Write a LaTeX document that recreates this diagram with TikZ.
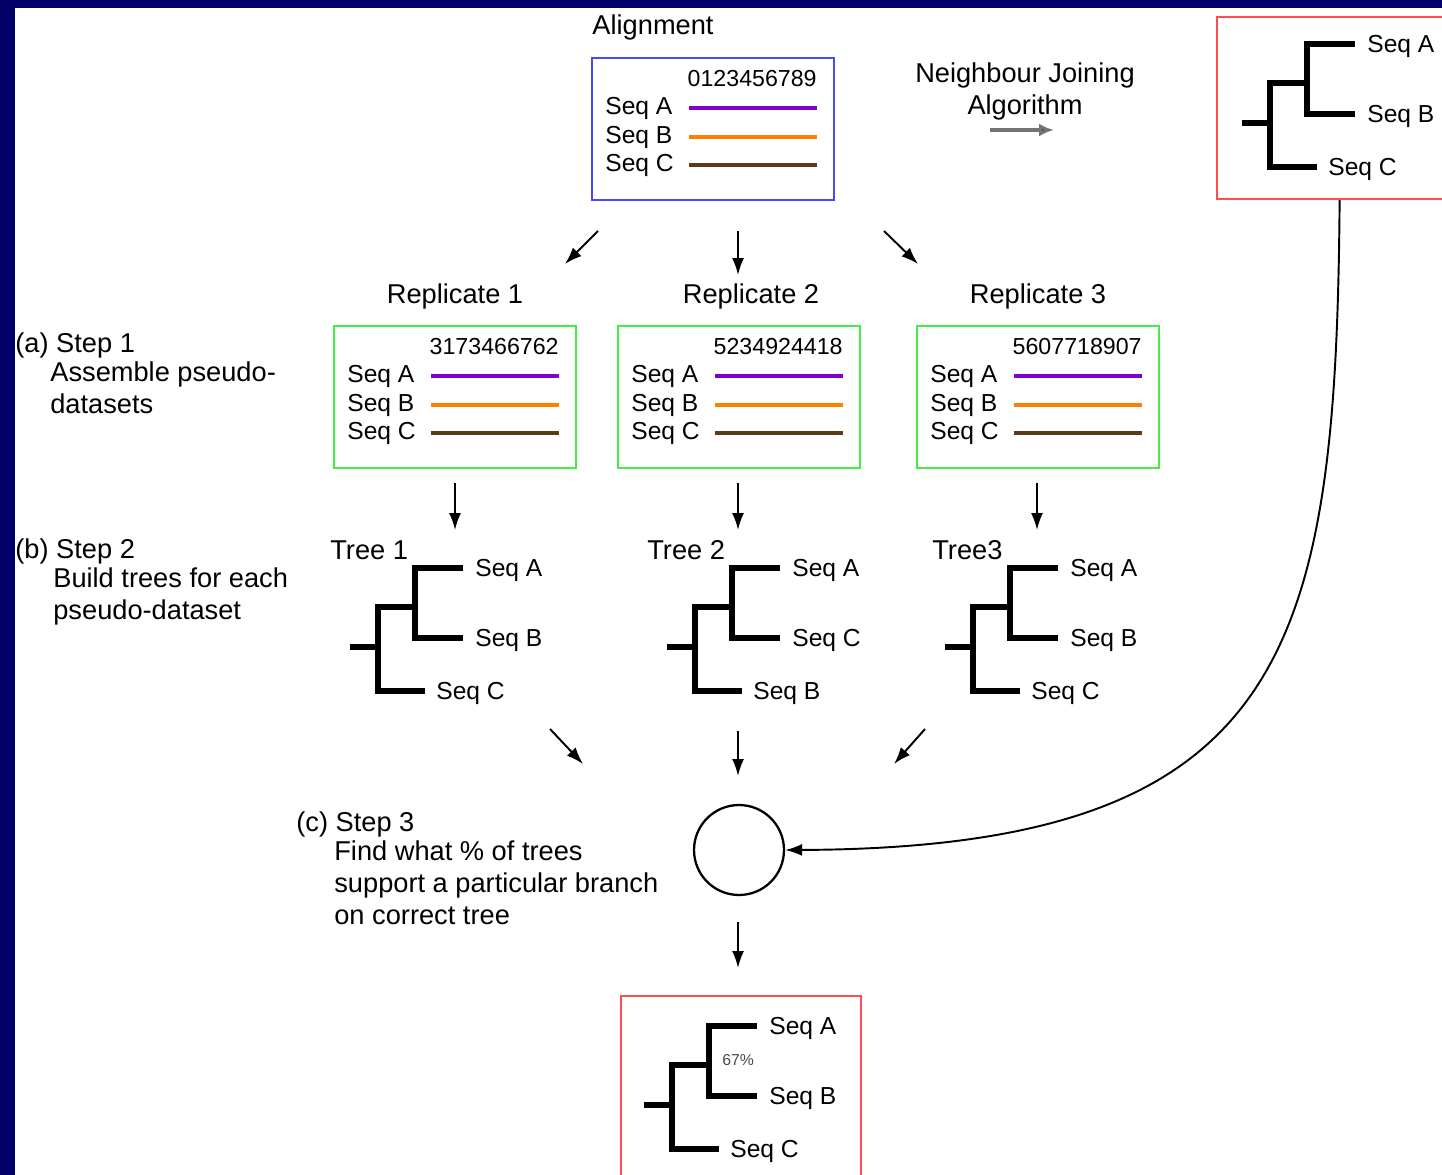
\documentclass[tikz,border=0pt]{standalone}
\usepackage{fontspec}
\setmainfont{Liberation Sans}
\usetikzlibrary{arrows.meta,positioning}
\definecolor{navy}{HTML}{000066}
\definecolor{alnblue}{HTML}{4848FF}
\definecolor{repgreen}{HTML}{44EE44}
\definecolor{treered}{HTML}{FF4C4C}
\definecolor{seqa}{HTML}{8000CC}
\definecolor{seqb}{HTML}{FF8000}
\definecolor{seqc}{HTML}{5C3C18}

% sequence box: name, north west corner (x,y), column digits, frame colour
\newcommand{\seqbox}[5]{%
  \node[frame,draw=#5,anchor=north west] (#1) at (#2,#3) {};
  \node[digits,anchor=east] (#1-num) at ([shift={(226,22)}]#1.north west) {#4};
  \foreach \sq/\col/\dy in {A/seqa/49,B/seqb/78,C/seqc/106}{
    \node[seqlbl,anchor=west] (#1-\sq) at ([shift={(14,\dy)}]#1.north west) {Seq \sq};
    \draw[seqline,\col] ([shift={(98,\dy+2)}]#1.north west) -- ([shift={(226,\dy+2)}]#1.north west);
  }
}

% tree: name, top of root branch (x,y), upper leaf, middle leaf, lower leaf
\newcommand{\phylo}[6]{%
  \begin{scope}[shift={(#2,#3)}]
    \draw[branch] (85,-39) -| (37,31) -- (85,31);
    \draw[branch] (37,0) -| (0,84) -- (47,84);
    \draw[branch] (-28,40) -- (0,40);
    \node[seqlbl,anchor=west] (#1-1) at (97,-39) {#4};
    \node[seqlbl,anchor=west] (#1-2) at (97,31) {#5};
    \node[seqlbl,anchor=west] (#1-3) at (58,84) {#6};
  \end{scope}
}

\begin{document}
\begin{tikzpicture}[
    x=0.02cm, y=-0.02cm,
    lbl/.style={inner sep=0pt,font=\fontsize{15.5}{18.2}\selectfont},
    title/.style={lbl,yshift=-0.04cm},
    seqlbl/.style={inner sep=0pt,yshift=-0.05cm,font=\fontsize{14}{16}\selectfont},
    digits/.style={inner sep=0pt,font=\fontsize{13.2}{15}\selectfont},
    frame/.style={draw,line width=1.3pt,minimum width=4.84cm,minimum height=2.84cm,inner sep=0pt},
    seqline/.style={line width=2.5pt},
    branch/.style={line width=3pt,line join=miter},
    arrow/.style={-{Latex[length=3.4mm,width=2.4mm]},line width=1.1pt},
    njarrow/.style={-{Latex[length=3mm,width=2.6mm,fill=black!85]},line width=2.2pt,draw=black!55}
  ]
    \useasboundingbox (0,0) rectangle (1442,1175);
    \fill[navy] (0,0) rectangle (1442,1175);
    \fill[white] (15,8) rectangle (1442,1175);

    % alignment
    \node[title] (alntitle) at (653,25) {Alignment};
    \seqbox{aln}{591}{57}{0123456789}{alnblue}

    \node[lbl,align=center] (nj) at (1025,91) {Neighbour Joining\\Algorithm};
    \coordinate (nj-s) at (990,130);
    \coordinate (nj-e) at (1054,130);
    \draw[njarrow] (nj-s) -- (nj-e);

    % correct tree
    \node[frame,draw=treered,minimum width=4.9cm,minimum height=3.64cm,anchor=north west] (njbox) at (1216,16) {};
    \phylo{njtree}{1270}{83}{Seq A}{Seq B}{Seq C}

    % replicates
    \node[title] (rep1-title) at (455,294) {Replicate 1};
    \node[title] (rep2-title) at (751,294) {Replicate 2};
    \node[title] (rep3-title) at (1038,294) {Replicate 3};
    \seqbox{rep1}{333}{325}{3173466762}{repgreen}
    \seqbox{rep2}{617}{325}{5234924418}{repgreen}
    \seqbox{rep3}{916}{325}{5607718907}{repgreen}

    \coordinate (s1) at (598,231);  \coordinate (e1) at (565,264);
    \coordinate (s2) at (738,231);  \coordinate (e2) at (738,275);
    \coordinate (s3) at (884,231);  \coordinate (e3) at (918,264);
    \foreach \i in {1,2,3} \draw[arrow] (s\i) -- (e\i);

    % trees
    \foreach \i/\x in {1/455,2/738,3/1037}{
      \coordinate (t\i-s) at (\x,483);
      \coordinate (t\i-e) at (\x,530);
      \draw[arrow] (t\i-s) -- (t\i-e);
    }
    \node[title,anchor=west] (tree1-title) at (330,548) {Tree 1};
    \node[title,anchor=west] (tree2-title) at (647,548) {Tree 2};
    \node[title,anchor=west] (tree3-title) at (932,548) {Tree3};
    \phylo{tree1}{378}{607}{Seq A}{Seq B}{Seq C}
    \phylo{tree2}{695}{607}{Seq A}{Seq C}{Seq B}
    \phylo{tree3}{973}{607}{Seq A}{Seq B}{Seq C}

    % consensus
    \node[circle,draw,line width=1.3pt,minimum size=1.8cm,inner sep=0pt] (cons) at (739,850) {};
    \coordinate (c1-s) at (550,729);  \coordinate (c1-e) at (583,764);
    \coordinate (c2-s) at (738,731);  \coordinate (c2-e) at (738,776);
    \coordinate (c3-s) at (925,729);  \coordinate (c3-e) at (894,764);
    \foreach \i in {1,2,3} \draw[arrow] (c\i-s) -- (c\i-e);
    \draw[arrow] (njbox.south) .. controls (1336,650) and (1290,848) .. (cons.east);

    \coordinate (r-s) at (738,922);
    \coordinate (r-e) at (738,968);
    \draw[arrow] (r-s) -- (r-e);

    % result
    \node[frame,draw=treered,minimum width=4.8cm,minimum height=3.9cm,anchor=north west] (resbox) at (620,995) {};
    \phylo{result}{672}{1065}{Seq A}{Seq B}{Seq C}
    \node[inner sep=0pt,anchor=west,font=\fontsize{9}{10}\selectfont,text=black!70] (support) at (722,1060) {67\%};

    % steps
    \node[title,anchor=west] (stepa) at (15,343) {(a) Step 1};
    \node[lbl,anchor=north west,align=left] (stepa-txt) at (50,361) {Assemble pseudo-\\datasets};
    \node[title,anchor=west] (stepb) at (15,549) {(b) Step 2};
    \node[lbl,anchor=north west,align=left] (stepb-txt) at (53,567) {Build trees for each\\pseudo-dataset};
    \node[title,anchor=west] (stepc) at (296,822) {(c) Step 3};
    \node[lbl,anchor=north west,align=left] (stepc-txt) at (334,840) {Find what \% of trees\\support a particular branch\\on correct tree};
\end{tikzpicture}
\end{document}
